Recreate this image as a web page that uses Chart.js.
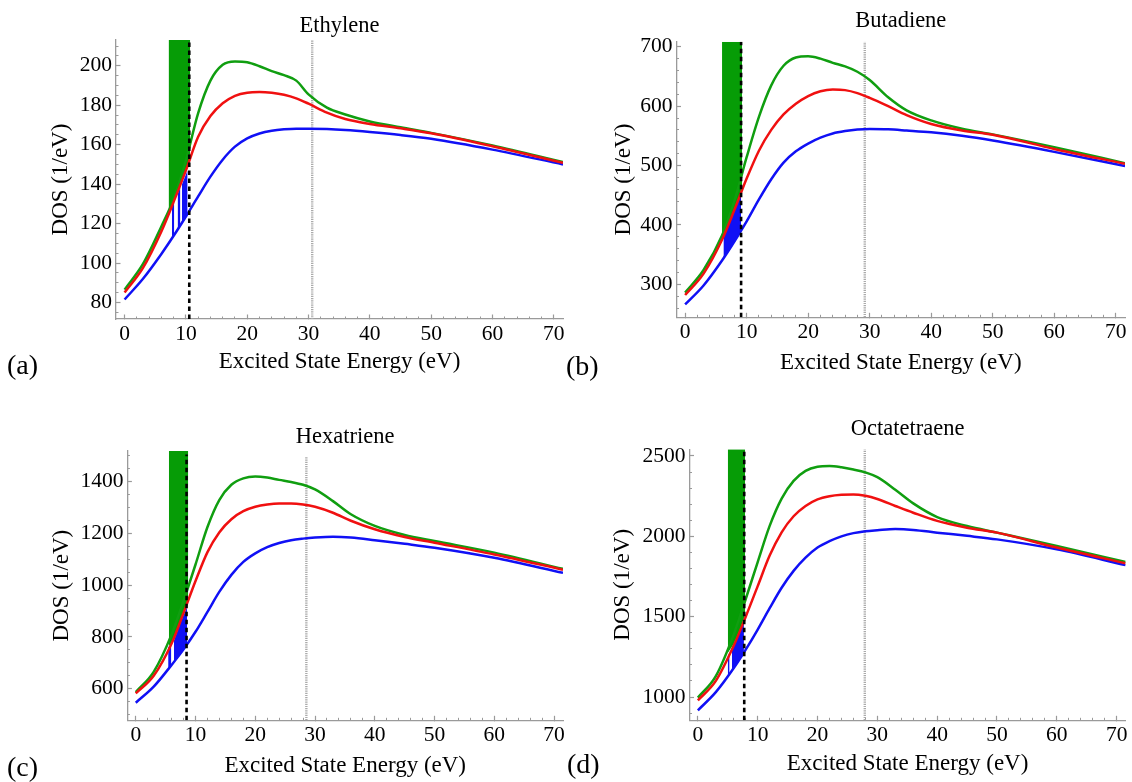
<!DOCTYPE html>
<html>
<head>
<meta charset="utf-8">
<script src="https://cdn.jsdelivr.net/npm/chart.js@4.4.1/dist/chart.umd.min.js"></script>
<style>
  html, body { margin: 0; padding: 0; background: #fff; }
  #page { position: relative; width: 1132px; height: 782px; overflow: hidden; background: #fff; }
  #page canvas { position: absolute; }
  .tag { position: absolute; font-family: "Liberation Serif", "Times New Roman", serif; font-size: 28px; line-height: 28px; color: #000; }
</style>
</head>
<body>
<div id="page">
  <canvas id="pa" width="566" height="391" style="left:0;top:0"></canvas>
  <canvas id="pb" width="566" height="391" style="left:566px;top:0"></canvas>
  <canvas id="pc" width="566" height="391" style="left:0;top:391px"></canvas>
  <canvas id="pd" width="566" height="391" style="left:566px;top:391px"></canvas>
  <div class="tag" style="left:7px;top:351px">(a)</div>
  <div class="tag" style="left:566px;top:352px">(b)</div>
  <div class="tag" style="left:7px;top:753px">(c)</div>
  <div class="tag" style="left:567px;top:750px">(d)</div>
</div>
<script>
/* DOS vs excited state energy, four polyenes, one Chart.js chart per panel. */
var MOLECULES = ['Ethylene', 'Butadiene', 'Hexatriene', 'Octatetraene'];
var X_TITLE = 'Excited State Energy (eV)';
var Y_TITLE = 'DOS (1/eV)';

// energy grid (eV) shared by the three curves of every panel
var ENERGY = [0, 3, 6, 8, 10, 12, 14, 16, 18, 20, 22, 24, 26, 28, 30, 33, 36, 40, 45, 50, 60, 71.5];

// (a) ethylene
var ETH_BLUE  = [81.5, 92, 104.6, 113.8, 123.6, 133.8, 143.8, 152.4, 159, 163.2, 165.7, 167.1, 167.8, 168.1, 168.1, 167.9, 167.4, 166.4, 164.9, 163, 157.5, 150];
var ETH_RED   = [85, 97.5, 116, 131, 147, 164, 174.5, 181, 184.8, 186.4, 186.7, 186.3, 185.3, 183.5, 180.8, 176.3, 173, 170.5, 168.3, 165.8, 159.2, 150.8];
var ETH_GREEN = [86.5, 99.5, 118.5, 132.5, 152, 176, 192.5, 200.5, 202.2, 201.8, 199.8, 197.3, 195.3, 192.5, 185.5, 178.8, 175.3, 171.8, 168.8, 166, 159.6, 151.2];
var ETH_BAND_E   = [7.18, 8, 9, 10, 10.7];
var ETH_BAND_LOW = [125.5, 131, 139, 147, 152.5];
var ETH_STICK_E   = [7.73, 8.1, 8.35, 8.65, 9.1, 9.22, 9.36, 10.28];
var ETH_STICK_TOP = [129.5, 132.5, null, 135, 138.5, null, 140, 147];

// (b) butadiene
var BUT_BLUE  = [266, 298, 340, 372, 406, 443, 477, 505, 524, 537, 547, 554, 558, 560.5, 561.5, 561, 559, 556, 550, 542, 523, 499];
var BUT_RED   = [282, 318, 375, 425, 478, 525, 560, 586, 604, 617, 625, 628, 627, 622, 614, 600, 585, 570, 559, 552, 528, 503];
var BUT_GREEN = [286, 324, 382, 440, 514, 582, 635, 668, 682, 684, 680, 673, 667, 658, 644, 615, 593, 576, 562, 552.5, 531, 504];
var BUT_BAND_E   = [6.0, 7, 8, 9.27];
var BUT_BAND_LOW = [375, 399, 425, 462];
var BUT_STICK_E   = [6.23, 7, 8, 9.1];
var BUT_STICK_TOP = [378, 397, 423, 455];

// (c) hexatriene
var HEX_BLUE  = [546, 608, 692, 752, 820, 897, 975, 1040, 1090, 1123, 1147, 1163, 1174, 1180, 1184, 1187, 1184, 1174, 1160, 1145, 1106, 1048];
var HEX_RED   = [582, 650, 775, 893, 1016, 1128, 1205, 1255, 1286, 1303, 1312, 1316, 1316, 1312, 1303, 1280, 1249, 1216, 1186, 1164, 1119, 1060];
var HEX_GREEN = [587, 665, 810, 940, 1080, 1225, 1330, 1388, 1413, 1420, 1416, 1407, 1399, 1388, 1370, 1325, 1274, 1229, 1194, 1171, 1126, 1063];
var HEX_BAND_E   = [5.54, 6, 7, 8, 8.78];
var HEX_BAND_LOW = [765, 778, 832, 893, 942];
var HEX_STICK_E   = [5.42, 5.95, 6.15, 6.38, 7, 8, 8.6];
var HEX_STICK_TOP = [760, 775, null, 785, 825, 885, 915];

// (d) octatetraene
var OCT_BLUE  = [917, 1030, 1180, 1295, 1420, 1553, 1680, 1785, 1867, 1930, 1970, 2000, 2020, 2032, 2038, 2045, 2040, 2023, 2003, 1981, 1919, 1821];
var OCT_RED   = [979, 1100, 1320, 1500, 1690, 1880, 2025, 2125, 2189, 2230, 2250, 2259, 2261, 2252, 2232, 2189, 2147, 2096, 2054, 2023, 1930, 1832];
var OCT_GREEN = [996, 1130, 1390, 1610, 1840, 2065, 2235, 2345, 2407, 2433, 2438, 2430, 2416, 2398, 2368, 2290, 2205, 2120, 2064, 2023, 1940, 1840];
var OCT_BAND_E   = [5.0, 6, 7, 7.9];
var OCT_BAND_LOW = [1275, 1330, 1415, 1510];
var OCT_STICK_E   = [5.0, 5.3, 5.45, 5.7, 6.5, 7.7];
var OCT_STICK_TOP = [1255, 1272, null, 1290, 1360, 1485];

// reference lines: dashed black threshold, dotted grey cutoff
var THRESHOLD_E   = [10.55, 9.1, 8.5, 7.75];
var THRESHOLD_TOP = [213, 708.5, 1505, 2542];
var CUTOFF_E   = [30.6, 29.2, 28.55, 27.9];
var CUTOFF_TOP = [213, 708.5, 1495, 2542];

// axes
var X_MIN = -1.4, X_MAX = 71.5, X_MINOR = 2;
var X_TICKS = [0, 10, 20, 30, 40, 50, 60, 70];
var Y_MIN = [71.6, 244.4, 478, 855];
var Y_MAX = [213.1, 708.4, 1518.6, 2541.7];
var Y_TICKS = [
  [80, 100, 120, 140, 160, 180, 200],
  [300, 400, 500, 600, 700],
  [600, 800, 1000, 1200, 1400],
  [1000, 1500, 2000, 2500]
];
var Y_MINOR = [5, 20, 50, 100];

var SERIES = [
  { blue: ETH_BLUE, red: ETH_RED, green: ETH_GREEN, bandE: ETH_BAND_E, bandLow: ETH_BAND_LOW, stickE: ETH_STICK_E, stickTop: ETH_STICK_TOP },
  { blue: BUT_BLUE, red: BUT_RED, green: BUT_GREEN, bandE: BUT_BAND_E, bandLow: BUT_BAND_LOW, stickE: BUT_STICK_E, stickTop: BUT_STICK_TOP },
  { blue: HEX_BLUE, red: HEX_RED, green: HEX_GREEN, bandE: HEX_BAND_E, bandLow: HEX_BAND_LOW, stickE: HEX_STICK_E, stickTop: HEX_STICK_TOP },
  { blue: OCT_BLUE, red: OCT_RED, green: OCT_GREEN, bandE: OCT_BAND_E, bandLow: OCT_BAND_LOW, stickE: OCT_STICK_E, stickTop: OCT_STICK_TOP }
];

// pixel layout of each panel (axis box sizes, paddings)
var LAYOUT = [
  { id: 'pa', yw: 116,   xh: 72,   padR: 3,   titleTop: 13,   titleBot: 0,   yTitlePad: 47,   xTitlePad: 15 },
  { id: 'pb', yw: 110.5, xh: 73.7, padR: 7,   titleTop: 7.3,  titleBot: 7.5, yTitlePad: 43.7, xTitlePad: 14 },
  { id: 'pc', yw: 127.4, xh: 61.7, padR: 3,   titleTop: 33,   titleBot: 0,   yTitlePad: 48,   xTitlePad: 2.7 },
  { id: 'pd', yw: 123.5, xh: 61.7, padR: 6.4, titleTop: 24.8, titleBot: 6.5, yTitlePad: 43.2, xTitlePad: 4.2 }
];

var FONT = '"Liberation Serif", "Times New Roman", serif';
var AXIS_GRAY = '#9a9a9a';
var RED = '#f01010', BLUE = '#1010f5', GREEN = '#109e10', GREEN_FILL = '#069c06';

function pts(xs, ys) {
  return xs.map(function (x, i) { return { x: x, y: ys[i] }; });
}

function fixSize(w, h) {
  return function (scale) {
    if (w != null) scale.width = w;
    if (h != null) scale.height = h;
    scale.paddingLeft = 0; scale.paddingRight = 0;
    scale.paddingTop = 0; scale.paddingBottom = 0;
  };
}

function useTicks(values) {
  return function (scale) {
    scale.ticks = values.map(function (v) { return { value: v }; });
  };
}

function plain(v) { return String(v); }

function curve(values, color, order) {
  return { data: pts(ENERGY, values), borderColor: color, borderWidth: 2.5, cubicInterpolationMode: 'monotone', order: order };
}

function buildPanel(i) {
  var L = LAYOUT[i];
  var s = SERIES[i];
  var datasets = [
    { data: pts([THRESHOLD_E[i], THRESHOLD_E[i]], [Y_MIN[i], THRESHOLD_TOP[i]]), borderColor: '#000', borderWidth: 2.6, borderDash: [4.5, 3.5], order: 0 },
    curve(s.red, RED, 1),
    curve(s.blue, BLUE, 2),
    curve(s.green, GREEN, 3),
    { data: pts([CUTOFF_E[i], CUTOFF_E[i]], [Y_MIN[i], CUTOFF_TOP[i]]), borderColor: '#aaaaaa', borderWidth: 2.4, borderDash: [1.2, 1], order: 4 },
    { data: pts(s.bandE, s.bandLow), borderColor: 'rgba(0,0,0,0)', borderWidth: 0, backgroundColor: GREEN_FILL, fill: 'end', order: 5 },
    { data: pts(s.stickE, s.stickTop), borderColor: 'rgba(0,0,0,0)', borderWidth: 0, backgroundColor: BLUE, fill: { target: 2 }, spanGaps: false, order: 6 }
  ];

  var tickFont = { family: FONT, size: 21.5 };
  var titleFont = { family: FONT, size: 23 };

  return new Chart(document.getElementById(L.id), {
    type: 'line',
    data: { datasets: datasets },
    options: {
      responsive: false,
      animation: false,
      events: [],
      layout: { padding: { left: 0, top: 0, right: L.padR, bottom: 0 } },
      elements: { point: { radius: 0 }, line: { borderJoinStyle: 'round' } },
      plugins: {
        legend: { display: false },
        tooltip: { enabled: false },
        filler: { drawTime: 'beforeDatasetsDraw', propagate: false },
        title: {
          display: true, text: MOLECULES[i], fullSize: false, color: '#000',
          font: { family: FONT, size: 22.5, weight: 'normal' },
          padding: { top: L.titleTop, bottom: L.titleBot }
        }
      },
      scales: {
        x: {
          type: 'linear', position: 'bottom', min: X_MIN, max: X_MAX, weight: 0,
          afterBuildTicks: useTicks(X_TICKS),
          afterFit: fixSize(null, L.xh),
          border: { display: true, color: AXIS_GRAY, width: 1.3 },
          grid: { drawOnChartArea: false, tickLength: -4.5, color: AXIS_GRAY, tickWidth: 1.2 },
          ticks: { autoSkip: false, maxRotation: 0, padding: 6.6, color: '#000', font: tickFont, callback: plain },
          title: { display: true, text: X_TITLE, color: '#000', font: titleFont, padding: { top: 0, bottom: L.xTitlePad } }
        },
        xMinor: {
          type: 'linear', axis: 'x', position: 'bottom', min: X_MIN, max: X_MAX, weight: -1,
          afterFit: fixSize(null, 0),
          border: { display: false },
          grid: { drawOnChartArea: false, tickLength: -2.5, color: AXIS_GRAY, tickWidth: 1 },
          ticks: { display: false, stepSize: X_MINOR, includeBounds: false, autoSkip: false }
        },
        y: {
          type: 'linear', position: 'left', min: Y_MIN[i], max: Y_MAX[i], weight: 0,
          afterBuildTicks: useTicks(Y_TICKS[i]),
          afterFit: fixSize(L.yw, null),
          border: { display: true, color: AXIS_GRAY, width: 1.3 },
          grid: { drawOnChartArea: false, tickLength: -4.5, color: AXIS_GRAY, tickWidth: 1.2 },
          ticks: { autoSkip: false, padding: 8.5, color: '#000', font: tickFont, callback: plain },
          title: { display: true, text: Y_TITLE, color: '#000', font: titleFont, padding: { top: L.yTitlePad, bottom: 0 } }
        },
        yMinor: {
          type: 'linear', axis: 'y', position: 'left', min: Y_MIN[i], max: Y_MAX[i], weight: -1,
          afterFit: fixSize(0, null),
          border: { display: false },
          grid: { drawOnChartArea: false, tickLength: -2.5, color: AXIS_GRAY, tickWidth: 1 },
          ticks: { display: false, stepSize: Y_MINOR[i], includeBounds: false, autoSkip: false }
        }
      }
    }
  });
}

for (var p = 0; p < LAYOUT.length; p++) buildPanel(p);
</script>
</body>
</html>
